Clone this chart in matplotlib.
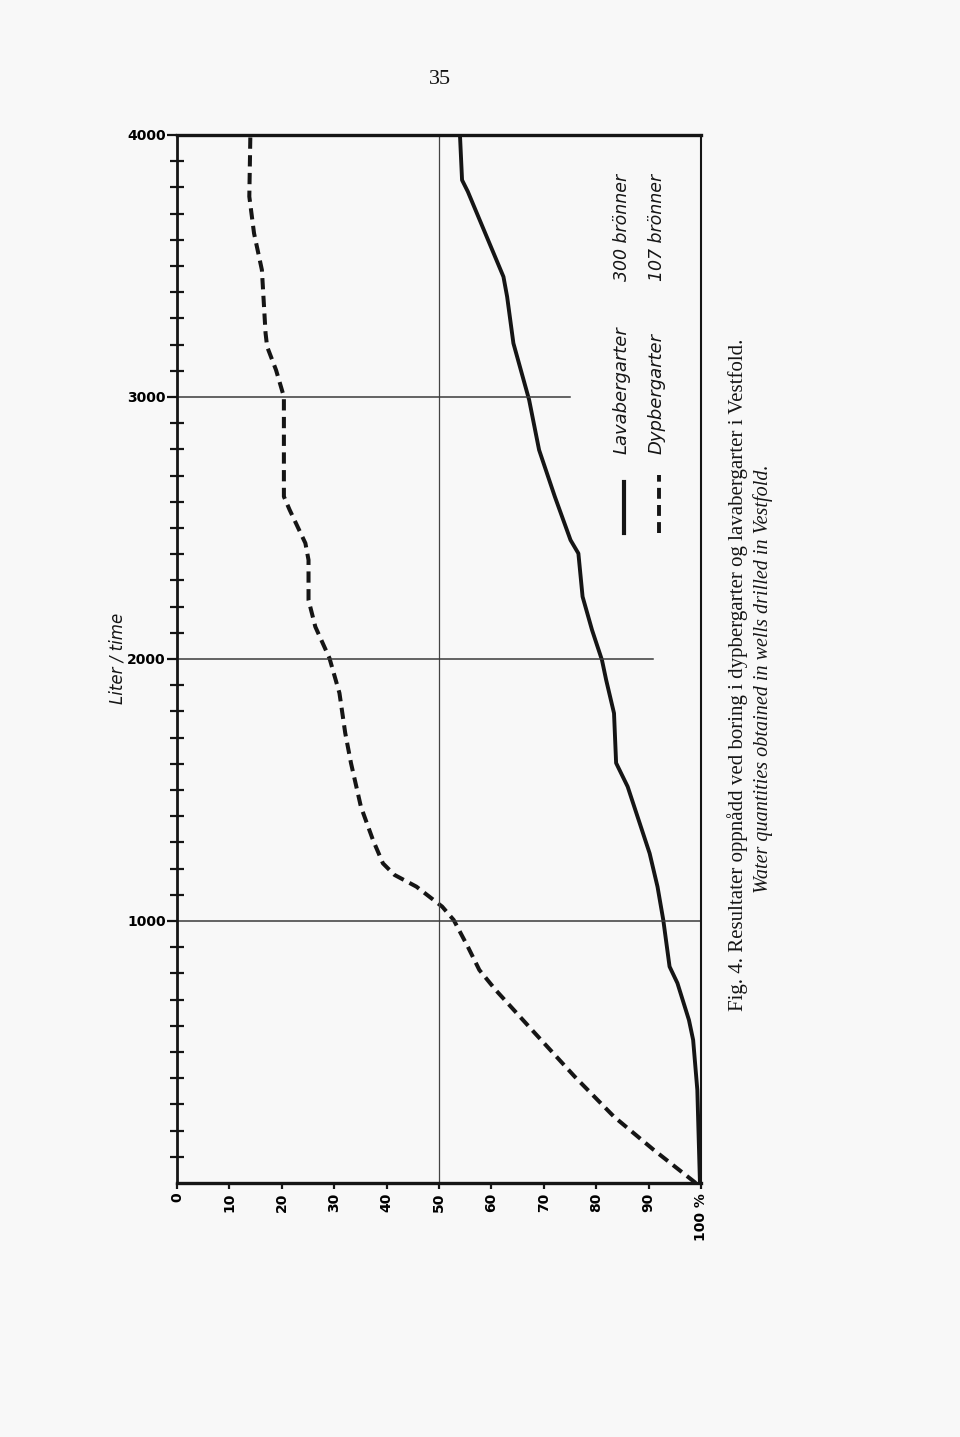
import matplotlib.pyplot as plt
from matplotlib.lines import Line2D

# data: percent of wells vs. liter per hour
lava_liter = [0, 355, 546, 622, 763, 826, 1004, 1131, 1258, 1513, 1603, 1793, 1920,
              1996, 2111, 2238, 2403, 2454, 2620, 2798, 2989, 3205, 3383, 3459,
              3784, 3828, 4000]
lava_pct = [99.8, 99.3, 98.5, 97.7, 95.5, 94.0, 92.8, 91.7, 90.2, 86.0, 83.8, 83.4, 81.9,
            81.1, 79.2, 77.4, 76.6, 75.1, 72.1, 69.1, 67.2, 64.2, 63.0, 62.3,
            55.5, 54.4, 54.0]

dyp_liter = [0, 126, 253, 406, 572, 737, 813, 902, 1004, 1055, 1131, 1176, 1220, 1309,
             1436, 1603, 1718, 1870, 2003, 2123, 2225, 2378, 2442, 2569, 2620, 2912,
             3001, 3103, 3192, 3244, 3485, 3625, 3765, 4000]
dyp_pct = [99.0, 91.0, 83.4, 75.9, 68.3, 60.8, 57.7, 55.5, 52.8, 50.6, 45.7, 41.5, 39.3,
           37.4, 35.1, 33.2, 32.1, 31.0, 29.1, 26.4, 25.1, 25.1, 24.5, 21.5, 20.4, 20.4,
           20.4, 18.9, 17.2, 16.9, 16.2, 14.7, 13.8, 14.0]

pct_ticks = [0, 10, 20, 30, 40, 50, 60, 70, 80, 90, 100]
pct_labels = ['0', '10', '20', '30', '40', '50', '60', '70', '80', '90', '100 %']
liter_ticks = [1000, 2000, 3000, 4000]
grid_ends = [1.0, 0.909, 0.75]   # how far the 1000/2000/3000 lines reach

ink = '#151515'
paper = '#f8f8f8'
dash = (0, (2.8, 1.6))

W, H = 960, 1437
fig = plt.figure(figsize=(W / 100, H / 100), dpi=100, facecolor=paper)


def fx(x):
    return x / W


def fy(y):
    return 1 - y / H


ax = fig.add_axes([fx(177), fy(1183), 524 / W, 1048 / H])
ax.set_facecolor(paper)
ax.set_xlim(0, 100)
ax.set_ylim(0, 4000)

ax.plot(lava_pct, lava_liter, color=ink, lw=2.8, solid_joinstyle='round')
ax.plot(dyp_pct, dyp_liter, color=ink, lw=2.9, linestyle=dash)

ax.axvline(50, color='#444444', lw=0.9)
for v, e in zip(liter_ticks[:3], grid_ends):
    ax.axhline(v, xmax=e, color='#3a3a3a', lw=1.1)

for side, w in [('top', 2.4), ('left', 2.0), ('bottom', 2.4), ('right', 1.5)]:
    ax.spines[side].set_linewidth(w)
    ax.spines[side].set_color(ink)

ax.set_xticks(pct_ticks)
ax.set_xticklabels(pct_labels, rotation=90, fontweight='bold', fontsize=10)
ax.tick_params(axis='x', direction='out', length=4, width=1.6, pad=3, color=ink)

ax.set_yticks(liter_ticks)
ax.set_yticklabels([str(v) for v in liter_ticks], fontweight='bold', fontsize=10)
ax.set_yticks([v for v in range(100, 4000, 100) if v % 1000], minor=True)
ax.tick_params(axis='y', which='major', direction='out', length=7, width=1.6, pad=1, color=ink)
ax.tick_params(axis='y', which='minor', direction='inout', length=10, width=1.6, color=ink)

fig.text(fx(117), fy(658), 'Liter / time', rotation=90, style='italic',
         fontsize=12, ha='center', va='center', color=ink)

# legend, drawn upright like the rest of the turned page
fig.add_artist(Line2D([fx(624), fx(624)], [fy(533), fy(482)], color=ink, lw=3.0))
fig.add_artist(Line2D([fx(659), fx(659)], [fy(533), fy(475)], color=ink, lw=2.8,
                      linestyle=dash))
legend_rows = [(622, 'Lavabergarter', '300 brönner'), (657, 'Dypbergarter', '107 brönner')]
for x, name, count in legend_rows:
    fig.text(fx(x), fy(454), name, rotation=90, rotation_mode='anchor', style='italic',
             fontsize=13, ha='left', va='center', color=ink)
    fig.text(fx(x), fy(281), count, rotation=90, rotation_mode='anchor', style='italic',
             fontsize=12.5, ha='left', va='center', color=ink)

fig.text(fx(738), fy(675),
         'Fig. 4. Resultater oppnådd ved boring i dypbergarter og lavabergarter i Vestfold.',
         rotation=90, family='Liberation Serif', fontsize=15, ha='center', va='center', color=ink)
fig.text(fx(763), fy(679), 'Water quantities obtained in wells drilled in Vestfold.',
         rotation=90, family='Liberation Serif', style='italic', fontsize=14.5,
         ha='center', va='center', color=ink)

fig.text(fx(440), fy(80), '35', family='Liberation Serif', fontsize=16,
         ha='center', va='center', color=ink)

fig.savefig('out.png', dpi=100, facecolor=paper)
